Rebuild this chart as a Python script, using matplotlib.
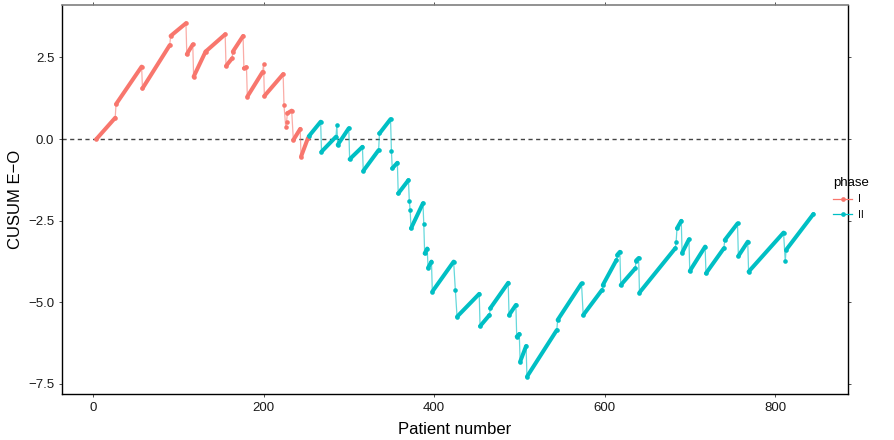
import numpy as np
import matplotlib
matplotlib.use("Agg")
import matplotlib.pyplot as plt
from matplotlib.lines import Line2D

plt.rcParams['font.family'] = ['Liberation Sans', 'DejaVu Sans']

# ---- data: CUSUM breakpoints (patient number, CUSUM E-O) ----
phase_labels = ["I", "II"]
phase_colors = ["#F8766D", "#00BFC4"]

patient_I = [4, 26, 27, 57, 58, 90, 91, 109, 110, 117, 118, 132, 155, 156, 163, 164,
             176, 177, 180, 181, 199, 200, 201, 223, 224, 226, 227, 228, 233, 235,
             243, 244, 252]
cusum_I = [0.00, 0.65, 1.07, 2.22, 1.55, 2.88, 3.16, 3.55, 2.60, 2.90, 1.91, 2.68, 3.21,
           2.24, 2.47, 2.68, 3.16, 2.17, 2.20, 1.30, 2.06, 2.29, 1.32, 1.99, 1.04, 0.38,
           0.53, 0.79, 0.87, -0.03, 0.31, -0.54, 0.02]

patient_II = [253, 267, 268, 285, 286, 287, 300, 301, 316, 317, 335, 336, 349, 350, 351,
              357, 358, 370, 371, 372, 373, 387, 388, 389, 392, 393, 397, 398, 423, 425,
              427, 453, 454, 465, 466, 487, 488, 496, 497, 500, 501, 508, 509, 544, 545,
              573, 575, 597, 598, 614, 615, 618, 619, 636, 637, 640, 641, 683, 684, 685,
              690, 691, 699, 700, 718, 719, 740, 741, 756, 757, 768, 769, 810, 812, 813,
              845]
cusum_II = [0.08, 0.53, -0.39, 0.07, 0.43, -0.18, 0.33, -0.62, -0.24, -0.98, -0.34, 0.17,
            0.61, -0.36, -0.90, -0.73, -1.67, -1.26, -1.90, -2.18, -2.74, -1.97, -2.61,
            -3.51, -3.36, -3.95, -3.76, -4.68, -3.76, -4.63, -5.45, -4.75, -5.74, -5.40,
            -5.19, -4.41, -5.40, -5.09, -6.06, -5.98, -6.83, -6.35, -7.29, -5.86, -5.55,
            -4.43, -5.40, -4.63, -4.48, -3.71, -3.55, -3.46, -4.48, -3.97, -3.73, -3.65,
            -4.71, -3.35, -3.15, -2.74, -2.51, -3.49, -3.08, -4.05, -3.30, -4.12, -3.35,
            -3.10, -2.59, -3.59, -3.15, -4.07, -2.87, -3.74, -3.40, -2.30]

x_ticks = [0, 200, 400, 600, 800]
y_ticks = [-7.5, -5.0, -2.5, 0.0, 2.5]

# ---- figure ----
fig = plt.figure(figsize=(8.94, 4.40), dpi=100)
ax = fig.add_axes([62/894, 1-394/440, (848-62)/894, (394-5)/440])

for xs, ys, col in [(patient_I, cusum_I, phase_colors[0]),
                    (patient_II, cusum_II, phase_colors[1])]:
    xs = np.asarray(xs); ys = np.asarray(ys)
    # thin connecting line (jumps)
    ax.plot(xs, ys, color=col, lw=0.9, alpha=0.6, zorder=2)
    # dense runs of per-patient points shown as a thick stroke
    for i in range(len(xs) - 1):
        if xs[i+1] - xs[i] >= 2 and ys[i+1] > ys[i]:
            ax.plot(xs[i:i+2], ys[i:i+2], color=col, lw=2.9,
                    solid_capstyle='round', zorder=3)
    ax.plot(xs, ys, linestyle='none', marker='o', ms=3.3, color=col,
            markeredgewidth=0, zorder=4)

ax.axhline(0, color='#444444', lw=1.0, linestyle=(0, (3, 2.5)), zorder=1)

ax.set_xlim(-36.4, 885.6)
ax.set_ylim(-7.82, 4.11)
ax.set_xticks(x_ticks)
ax.set_xticklabels([str(v) for v in x_ticks])
ax.set_yticks(y_ticks)
ax.set_yticklabels([f"{v:.1f}".replace('-', '\u2212') for v in y_ticks])

ax.tick_params(axis='both', which='both', direction='out', length=2.5, width=0.6,
               color='#333333', labelsize=9.5, labelcolor='#1a1a1a',
               top=True, right=True, labeltop=False, labelright=False, pad=3)

for s in ['left', 'bottom', 'right']:
    ax.spines[s].set_color('black')
    ax.spines[s].set_linewidth(1.0)
ax.spines['top'].set_color('#7f7f7f')
ax.spines['top'].set_linewidth(1.2)

ax.set_xlabel("Patient number", fontsize=12, labelpad=6)
ax.set_ylabel("CUSUM E\u2212O", fontsize=12, labelpad=4)

handles = [Line2D([0], [0], color=c, lw=0.9, marker='o', ms=3.4, markeredgewidth=0)
           for c in phase_colors]
leg = fig.legend(handles, phase_labels, title="phase", loc='upper left',
                 bbox_to_anchor=(829/894, 1-173/440), frameon=False,
                 fontsize=7.5, title_fontsize=9.5, handlelength=1.8,
                 handletextpad=0.6, labelspacing=0.5, borderaxespad=0)
leg._legend_box.align = "left"

fig.savefig("out.png", dpi=100)
